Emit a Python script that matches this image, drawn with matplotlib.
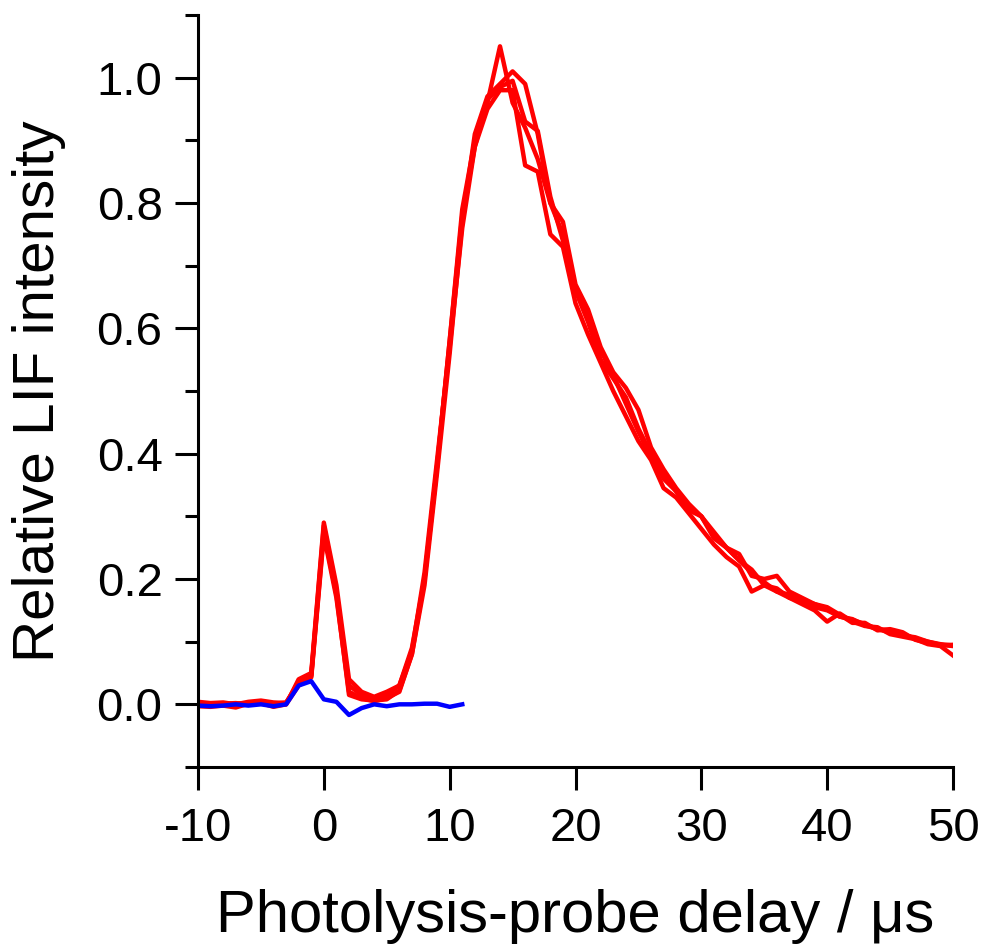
import numpy as np
import matplotlib
matplotlib.use("Agg")
import matplotlib.pyplot as plt
from matplotlib.ticker import MultipleLocator, FormatStrFormatter

# =============================================================
# DATOS
# =============================================================

delay_red = list(range(-10, 51))      # µs
delay_blue = list(range(-10, 12))     # µs

red_1 = [0.004, 0.002, 0.003, 0.000, 0.004, 0.006, 0.003, 0.002,
         0.036, 0.047, 0.285, 0.18,
         0.03, 0.015, 0.01, 0.015, 0.03, 0.09, 0.2,
         0.38, 0.58, 0.79, 0.90, 0.96,
         1.05, 0.96, 0.92, 0.87, 0.80, 0.75, 0.66,
         0.61, 0.55, 0.52, 0.49, 0.44, 0.40, 0.36, 0.34, 0.31, 0.30,
         0.265, 0.25, 0.23, 0.21, 0.195, 0.18, 0.175, 0.165, 0.155, 0.15,
         0.14, 0.135, 0.128, 0.12, 0.115, 0.112, 0.105, 0.10, 0.095, 0.093]

red_2 = [0.0, -0.002, 0.001, 0.002, 0.0, 0.003, -0.001, 0.0,
         0.03, 0.043, 0.27, 0.17,
         0.02, 0.01, 0.005, 0.01, 0.02, 0.08, 0.19,
         0.37, 0.56, 0.77, 0.91, 0.97,
         0.99, 1.01, 0.99, 0.91, 0.80, 0.77, 0.67,
         0.63, 0.57, 0.53, 0.505, 0.47, 0.41, 0.375, 0.345, 0.32, 0.30,
         0.275, 0.25, 0.24, 0.205, 0.20, 0.205, 0.18, 0.17, 0.16, 0.155,
         0.143, 0.13, 0.13, 0.118, 0.12, 0.115, 0.103, 0.098, 0.094, 0.095]

red_3 = [-0.003, -0.004, -0.002, -0.005, 0.001, 0.002, -0.004, 0.0,
         0.04, 0.05, 0.29, 0.19,
         0.04, 0.02, 0.012, 0.02, 0.03, 0.085, 0.21,
         0.39, 0.57, 0.76, 0.89, 0.95,
         0.98, 0.98, 0.86, 0.85, 0.75, 0.73, 0.64,
         0.59, 0.545, 0.50, 0.46, 0.42, 0.39, 0.345, 0.33, 0.305, 0.28,
         0.255, 0.235, 0.22, 0.18, 0.19, 0.185, 0.17, 0.16, 0.15, 0.132,
         0.145, 0.132, 0.125, 0.123, 0.112, 0.108, 0.104, 0.096, 0.093, 0.078]

red_4 = [0.002, 0.001, -0.001, 0.001, 0.002, 0.004, 0.001, 0.003,
         0.033, 0.045, 0.275, 0.175,
         0.015, 0.008, 0.006, 0.008, 0.022, 0.08, 0.2,
         0.38, 0.58, 0.78, 0.89, 0.965,
         0.985, 0.995, 0.93, 0.915, 0.81, 0.74, 0.665,
         0.615, 0.565, 0.525, 0.48, 0.435, 0.395, 0.37, 0.34, 0.315, 0.30,
         0.27, 0.25, 0.23, 0.215, 0.19, 0.18, 0.17, 0.165, 0.16, 0.152,
         0.14, 0.136, 0.126, 0.12, 0.118, 0.11, 0.107, 0.1, 0.096, 0.094]

blue_1 = [-0.002, -0.003, -0.002, 0.0, -0.002, 0.0, -0.003, 0.0,
          0.03, 0.037, 0.008, 0.004, -0.017, -0.006, 0.0, -0.003,
          0.0, 0.0, 0.001, 0.001, -0.004, 0.0]

red_traces = [red_1, red_2, red_3, red_4]

# =============================================================
# GRAFICADO
# =============================================================

plt.rcParams["font.family"] = ["Liberation Sans", "DejaVu Sans"]
plt.rcParams["axes.unicode_minus"] = False

fig = plt.figure(figsize=(9.83, 9.49), dpi=100)
ax = fig.add_axes([198 / 983, 182 / 949, 755 / 983, 752 / 949])

for tr in red_traces:
    ax.plot(delay_red, tr, color="#ff0000", lw=3.2)
ax.plot(delay_blue, blue_1, color="#0000ff", lw=3.2)

ax.set_xlim(-10, 50)
ax.set_ylim(-0.1, 1.1)
ax.xaxis.set_major_locator(MultipleLocator(10))
ax.yaxis.set_major_locator(MultipleLocator(0.2))
ax.yaxis.set_minor_locator(MultipleLocator(0.1))
ax.yaxis.set_major_formatter(FormatStrFormatter("%.1f"))

for side in ["top", "right"]:
    ax.spines[side].set_visible(False)
for side in ["left", "bottom"]:
    ax.spines[side].set_linewidth(2.2)

ax.tick_params(axis="both", which="major", length=16.5, width=2.2,
               labelsize=34, direction="out")
ax.tick_params(axis="y", which="minor", length=9.5, width=2.2, direction="out")
ax.tick_params(axis="y", which="major", pad=9)
ax.tick_params(axis="x", which="major", pad=12)

ax.set_xlabel("Photolysis-probe delay / \u03bcs", fontsize=43, labelpad=28)
ax.set_ylabel("Relative LIF intensity", fontsize=42, labelpad=22)

fig.savefig("out.png", dpi=100)
